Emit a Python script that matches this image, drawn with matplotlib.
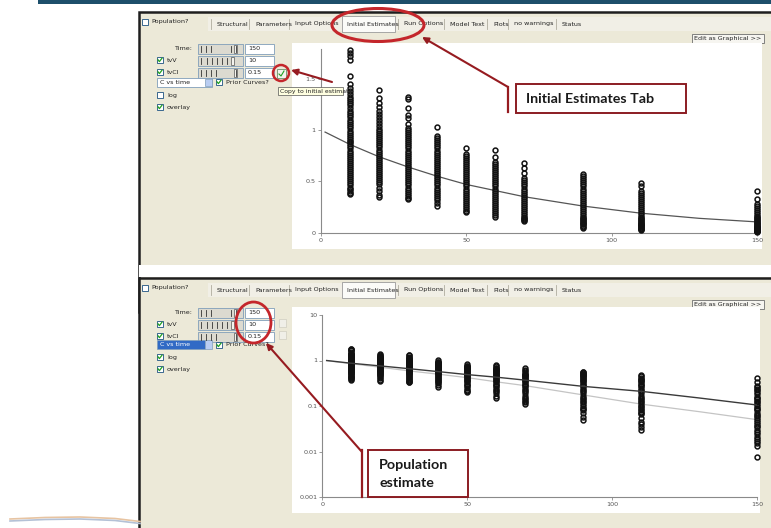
import matplotlib.pyplot as plt
from matplotlib.patches import Rectangle, Ellipse

# ===== Data =====
TIMES = [10, 20, 30, 40, 50, 60, 70, 90, 110, 150]

conc_t10 = [1.78, 1.75, 1.72, 1.68, 1.53, 1.45, 1.41, 1.38, 1.35, 1.32, 1.30, 1.28, 1.26,
            1.24, 1.21, 1.19, 1.17, 1.15, 1.13, 1.10, 1.08, 1.06, 1.04, 1.02, 0.99, 0.97,
            0.95, 0.93, 0.91, 0.89, 0.88, 0.86, 0.84, 0.82, 0.80, 0.78, 0.76, 0.74, 0.72,
            0.70, 0.68, 0.66, 0.64, 0.62, 0.60, 0.58, 0.56, 0.54, 0.52, 0.50, 0.48, 0.46,
            0.44, 0.43, 0.41, 0.39, 0.38]
conc_t20 = [1.39, 1.31, 1.26, 1.22, 1.19, 1.16, 1.13, 1.10, 1.07, 1.04, 1.01, 0.99, 0.97,
            0.95, 0.93, 0.91, 0.89, 0.87, 0.85, 0.83, 0.81, 0.79, 0.77, 0.75, 0.73, 0.71,
            0.69, 0.67, 0.65, 0.63, 0.61, 0.59, 0.57, 0.55, 0.53, 0.51, 0.49, 0.47, 0.44,
            0.41, 0.37, 0.35]
conc_t30 = [1.32, 1.30, 1.21, 1.15, 1.12, 1.06, 1.02, 1.00, 0.98, 0.96, 0.94, 0.92, 0.90,
            0.88, 0.86, 0.84, 0.82, 0.80, 0.78, 0.76, 0.74, 0.72, 0.70, 0.68, 0.66, 0.64,
            0.62, 0.60, 0.58, 0.56, 0.54, 0.52, 0.50, 0.48, 0.46, 0.44, 0.42, 0.40, 0.38,
            0.36, 0.34, 0.33]
conc_t40 = [1.03, 0.94, 0.92, 0.90, 0.88, 0.86, 0.84, 0.82, 0.80, 0.78, 0.76, 0.74, 0.72,
            0.70, 0.68, 0.66, 0.64, 0.62, 0.60, 0.58, 0.56, 0.54, 0.52, 0.50, 0.48, 0.46,
            0.44, 0.42, 0.40, 0.38, 0.36, 0.34, 0.32, 0.29, 0.26]
conc_t50 = [0.82, 0.77, 0.75, 0.73, 0.71, 0.69, 0.67, 0.65, 0.63, 0.61, 0.59, 0.57, 0.55,
            0.53, 0.51, 0.49, 0.47, 0.45, 0.43, 0.41, 0.39, 0.37, 0.35, 0.33, 0.31, 0.29,
            0.27, 0.25, 0.23, 0.21, 0.20]
conc_t60 = [0.81, 0.74, 0.69, 0.67, 0.65, 0.63, 0.61, 0.59, 0.57, 0.55, 0.53, 0.51, 0.49,
            0.47, 0.45, 0.43, 0.41, 0.39, 0.37, 0.35, 0.33, 0.31, 0.29, 0.27, 0.25, 0.23,
            0.21, 0.19, 0.17, 0.15]
conc_t70 = [0.68, 0.63, 0.58, 0.53, 0.51, 0.49, 0.47, 0.45, 0.43, 0.41, 0.39, 0.37, 0.35,
            0.33, 0.31, 0.29, 0.27, 0.25, 0.23, 0.21, 0.19, 0.17, 0.15, 0.14, 0.13, 0.12,
            0.11]
conc_t90 = [0.57, 0.55, 0.53, 0.51, 0.49, 0.47, 0.45, 0.43, 0.41, 0.39, 0.37, 0.35, 0.33,
            0.31, 0.29, 0.27, 0.25, 0.23, 0.21, 0.19, 0.17, 0.15, 0.14, 0.13, 0.12, 0.11,
            0.10, 0.09, 0.085, 0.08, 0.07, 0.057, 0.05]
conc_t110 = [0.48, 0.45, 0.41, 0.39, 0.37, 0.35, 0.33, 0.31, 0.29, 0.27, 0.25, 0.23, 0.21,
             0.19, 0.17, 0.15, 0.14, 0.13, 0.12, 0.11, 0.10, 0.095, 0.088, 0.08, 0.075,
             0.07, 0.067, 0.055, 0.045, 0.04, 0.035, 0.029]
conc_t150 = [0.41, 0.33, 0.28, 0.26, 0.24, 0.22, 0.20, 0.18, 0.16, 0.15, 0.14, 0.13, 0.12,
             0.11, 0.10, 0.09, 0.085, 0.08, 0.07, 0.065, 0.06, 0.055, 0.05, 0.045, 0.04,
             0.037, 0.034, 0.03, 0.027, 0.024, 0.021, 0.019, 0.017, 0.015, 0.0135, 0.0075]
CONC = [conc_t10, conc_t20, conc_t30, conc_t40, conc_t50,
        conc_t60, conc_t70, conc_t90, conc_t110, conc_t150]

curve_t = [1.5, 10, 20, 30, 40, 50, 60, 70, 90, 110, 130, 150]
curve_initial = [0.98, 0.86, 0.74, 0.64, 0.55, 0.47, 0.41, 0.35, 0.26, 0.19, 0.14, 0.105]
curve_indiv = [1.0, 0.87, 0.76, 0.66, 0.57, 0.49, 0.43, 0.37, 0.27, 0.21, 0.15, 0.105]
curve_pop = [0.99, 0.85, 0.71, 0.59, 0.50, 0.42, 0.34, 0.28, 0.175, 0.11, 0.075, 0.05]

lin_ticks = [0, 0.5, 1, 1.5]
lin_labels = ["0", "0.5", "1", "1.5"]
log_ticks = [0.001, 0.01, 0.1, 1, 10]
log_labels = ["0.001", "0.01", "0.1", "1", "10"]
x_ticks = [0, 50, 100, 150]

tab_labels = ["Structural", "Parameters", "Input Options", "Initial Estimates",
              "Run Options", "Model Text", "Plots", "no warnings", "Status"]

# ===== Figure =====
W, H = 771, 528
UI = ['Liberation Sans Narrow', 'DejaVu Sans']
BEIGE = '#ece9d8'
RED = '#c4262b'
DARKRED = '#961b20'

fig = plt.figure(figsize=(W / 100, H / 100), dpi=100)
bg = fig.add_axes([0, 0, 1, 1], zorder=0)
bg.set_xlim(0, W); bg.set_ylim(H, 0); bg.axis('off')
top = fig.add_axes([0, 0, 1, 1], zorder=5)
top.set_xlim(0, W); top.set_ylim(H, 0); top.axis('off')
top.patch.set_alpha(0)


def px_axes(x0, y0, x1, y1):
    ax = fig.add_axes([x0 / W, 1 - y1 / H, (x1 - x0) / W, (y1 - y0) / H], zorder=2)
    ax.patch.set_alpha(0)
    return ax


def txt(ax, x, y, s, size=4.6, **kw):
    kw.setdefault('va', 'center')
    ax.text(x, y, s, fontsize=size, family=UI, color=kw.pop('color', '#222'), **kw)


def checkbox(x, y, checked=True):
    bg.add_patch(Rectangle((x - 3, y - 3), 6, 6, fc='white', ec='#1c5180', lw=0.6))
    if checked:
        bg.plot([x - 2, x - 0.6, x + 2], [y - 0.2, y + 1.6, y - 1.8], color='#21a121', lw=0.9)


def field(x0, y0, x1, y1, s, fc='white'):
    bg.add_patch(Rectangle((x0, y0), x1 - x0, y1 - y0, fc=fc, ec='#7f9db9', lw=0.6))
    txt(bg, x0 + 3, (y0 + y1) / 2, s)


def slider(x0, y0, x1, y1, marks, thumb):
    bg.add_patch(Rectangle((x0, y0), x1 - x0, y1 - y0, fc='#dcdad0', ec='#7f9db9', lw=0.6))
    for m in marks:
        bg.plot([x0 + m, x0 + m], [y0 + 2, y1 - 2], color='#333', lw=0.6)
    bg.add_patch(Rectangle((x0 + thumb, y0 + 1), 3, y1 - y0 - 2, fc='#f4f3ee', ec='#555', lw=0.5))


def panel(y0, dy):
    bg.add_patch(Rectangle((139, y0), 660, 300, fc=BEIGE, ec='#1e1e1e', lw=1.8))
    checkbox(145, y0 + 10, checked=False)
    txt(bg, 151, y0 + 10, "Population?")
    # tab strip
    bg.add_patch(Rectangle((208, y0 + 5), 570, 14, fc='#f1efe6', ec='none'))
    tab_x = [217, 255, 295, 347, 404, 450, 493, 514, 562]
    for lab, x in zip(tab_labels, tab_x):
        txt(bg, x, y0 + 12, lab)
        if lab == "Initial Estimates":
            bg.add_patch(Rectangle((x - 5, y0 + 4), 53, 16, fc='#fbfbf8', ec='#9a9a9a', lw=0.6))
        else:
            bg.plot([x - 6, x - 6], [y0 + 7, y0 + 17], color='#b0ad9f', lw=0.6)
    # edit button
    bg.add_patch(Rectangle((692, y0 + 22), 72, 9, fc='#f6f5f0', ec='#6e6e6e', lw=0.6))
    txt(bg, 728, y0 + 26.5, "Edit as Graphical >>", ha='center')
    # controls
    txt(bg, 192, y0 + 37 + dy, "Time:", ha='right')
    slider(198, y0 + 32 + dy, 243, y0 + 42 + dy, [3, 8, 13, 33, 38], 36)
    field(245, y0 + 32 + dy, 274, y0 + 42 + dy, "150")
    checkbox(160, y0 + 48 + dy); txt(bg, 167, y0 + 48 + dy, "tvV")
    slider(198, y0 + 44 + dy, 243, y0 + 54 + dy, [3, 9, 14, 19, 24, 29], 33)
    field(245, y0 + 44 + dy, 274, y0 + 54 + dy, "10")
    checkbox(160, y0 + 60 + dy); txt(bg, 167, y0 + 60 + dy, "tvCl")
    slider(198, y0 + 56 + dy, 243, y0 + 66 + dy, [3, 8, 13, 18, 38], 36)
    field(245, y0 + 56 + dy, 274, y0 + 66 + dy, "0.15")


panel(12, 0)
panel(278, -2)

# panel 1 specific controls
bg.add_patch(Rectangle((277, 69), 9, 9, fc='#f4f3ee', ec='#6b8e6b', lw=0.6))
bg.plot([279, 281, 284], [74, 76, 71], color='#21a121', lw=0.8)
field(157, 78, 212, 87, "C vs time")
bg.add_patch(Rectangle((205, 79), 7, 7, fc='#b9cdf2', ec='#7f9db9', lw=0.5))
checkbox(219, 82); txt(bg, 226, 82, "Prior Curves?")
checkbox(160, 95, checked=False); txt(bg, 167, 95, "log")
checkbox(160, 107); txt(bg, 167, 107, "overlay")

# panel 2 specific controls
for yy in (323, 335):
    bg.add_patch(Rectangle((279, yy - 4), 7, 8, fc='#f0efe8', ec='#cfcdc0', lw=0.5))
bg.add_patch(Rectangle((157, 340), 48, 9, fc='#316ac5', ec='#7f9db9', lw=0.5))
txt(bg, 160, 344.5, "C vs time", color='white')
bg.add_patch(Rectangle((205, 340), 7, 9, fc='#b9cdf2', ec='#7f9db9', lw=0.5))
checkbox(219, 345); txt(bg, 226, 345, "Prior Curves?")
checkbox(160, 357); txt(bg, 167, 357, "log")
checkbox(160, 369); txt(bg, 167, 369, "overlay")

# white plot areas and gap between panels
bg.add_patch(Rectangle((292, 43), 470, 206, fc='white', ec='none'))
bg.add_patch(Rectangle((292, 307), 468, 206, fc='white', ec='none'))
bg.add_patch(Rectangle((139, 265), 640, 12, fc='white', ec='none', zorder=3))
# top banner and logo swoosh
bg.add_patch(Rectangle((38, 0), W - 38, 4, fc='#1d4f6b', ec='none'))
bg.plot([10, 45, 80, 115, 140], [519, 517.5, 517, 518.5, 521.5], color='#e7c4a2', lw=1.2)
bg.plot([10, 45, 80, 115, 140], [521, 519.5, 519, 520.5, 523.5], color='#b4c1d6', lw=1.2)


def style_axes(ax, ticks, labels):
    for s in ('top', 'right'):
        ax.spines[s].set_visible(False)
    for s in ('left', 'bottom'):
        ax.spines[s].set_color('#8a8a8a')
        ax.spines[s].set_linewidth(0.8)
    ax.set_xlim(0, 150)
    ax.set_xticks(x_ticks)
    ax.set_xticklabels([str(v) for v in x_ticks])
    ax.set_yticks(ticks)
    ax.set_yticklabels(labels)
    ax.minorticks_off()
    ax.tick_params(length=2.5, width=0.6, color='#8a8a8a', pad=1, labelsize=4.6,
                   labelcolor='#555')
    for lab in ax.get_xticklabels() + ax.get_yticklabels():
        lab.set_family(UI)


def scatter_columns(ax):
    for t, vals in zip(TIMES, CONC):
        ax.plot([t] * len(vals), vals, 'o', ms=3.5, mfc='none', mec='#111111',
                mew=1.1, clip_on=False, zorder=3)


# ===== Plot 1: linear =====
ax1 = px_axes(320.7, 49.3, 757.3, 232.7)
ax1.set_ylim(0, 1.786)
scatter_columns(ax1)
ax1.plot(curve_t, curve_initial, color='#555', lw=0.9, zorder=2)
style_axes(ax1, lin_ticks, lin_labels)

# ===== Plot 2: log =====
ax2 = px_axes(322.3, 315, 757.3, 497)
ax2.set_yscale('log')
ax2.set_ylim(0.001, 10)
scatter_columns(ax2)
ax2.plot(curve_t, curve_pop, color='#c4c4c4', lw=0.9, zorder=2)
ax2.plot(curve_t, curve_indiv, color='#3a3a3a', lw=1.0, zorder=4)
style_axes(ax2, log_ticks, log_labels)

# ===== Annotations =====
top.add_patch(Rectangle((278, 87), 65, 8, fc='#ffffe1', ec='#555', lw=0.5))
txt(top, 280, 91, "Copy to initial estimate", size=4.4)

top.add_patch(Ellipse((378, 25), 92, 33, fc='none', ec=RED, lw=2.2))
top.add_patch(Ellipse((281, 73), 16, 16, fc='none', ec=RED, lw=1.8))
top.add_patch(Ellipse((253.5, 322.5), 35, 41, fc='none', ec=RED, lw=2.0))

arrow = dict(arrowstyle='-|>', color=DARKRED, lw=1.5, mutation_scale=9, shrinkA=0, shrinkB=0)
top.annotate('', xy=(422, 37), xytext=(508, 87), arrowprops=arrow)
top.annotate('', xy=(291, 70), xytext=(332, 82), arrowprops=arrow)
top.annotate('', xy=(266, 343), xytext=(362, 452), arrowprops=arrow)
top.plot([508, 508], [87, 112], color=DARKRED, lw=1.6)
top.plot([362, 362], [450, 497], color=DARKRED, lw=1.6)

top.add_patch(Rectangle((516, 84), 170, 29, fc='white', ec='#8b1c22', lw=1.4))
top.text(526, 99, "Initial Estimates Tab", fontsize=10.3, family=['Lato', 'DejaVu Sans'],
         weight='bold', color='#1a1a1a', va='center')
top.add_patch(Rectangle((368, 450), 100, 47, fc='white', ec='#8b1c22', lw=1.4))
top.text(379, 465, "Population", fontsize=10.3, family=['Lato', 'DejaVu Sans'],
         weight='bold', color='#1a1a1a', va='center')
top.text(379, 483, "estimate", fontsize=10.3, family=['Lato', 'DejaVu Sans'],
         weight='bold', color='#1a1a1a', va='center')

fig.savefig('out.png', dpi=100, facecolor='white')
